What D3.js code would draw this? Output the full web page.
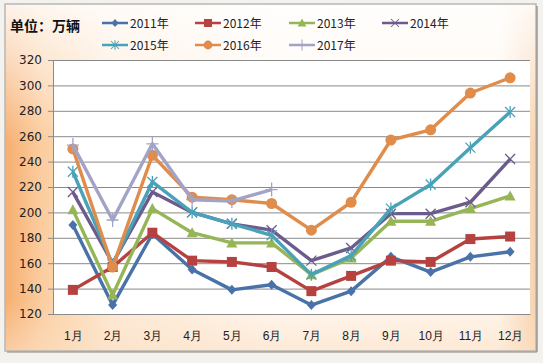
<!DOCTYPE html>
<html>
<head>
<meta charset="utf-8">
<script src="https://cdn.jsdelivr.net/npm/d3@7"></script>
<style>
  body { margin: 0; background: #f4f2ef; }
  svg { display: block; font-family: "Noto Sans CJK SC", "DejaVu Sans", sans-serif; }
</style>
</head>
<body>
<svg id="chart" width="543" height="363"></svg>
<script>
// chart data
var months = ['1月', '2月', '3月', '4月', '5月', '6月', '7月', '8月', '9月', '10月', '11月', '12月'];
var seriesNames = ['2011年', '2012年', '2013年', '2014年', '2015年', '2016年', '2017年'];
var v2011 = [190, 127, 183, 155, 139, 143, 127, 138, 165, 153, 165, 169];
var v2012 = [139, 157, 184, 162, 161, 157, 138, 150, 162, 161, 179, 181];
var v2013 = [202, 135, 203, 184, 176, 176, 151, 164, 193, 193, 203, 213];
var v2014 = [216, 160, 216, 200, 191, 186, 162, 172, 199, 199, 208, 242];
var v2015 = [232, 159, 224, 200, 191, 182, 151, 166, 203, 222, 251, 279];
var v2016 = [250, 157, 245, 212, 210, 207, 186, 208, 257, 265, 294, 306];
var v2017 = [253, 194, 254, 210, 209, 218];
var yTicks = [120, 140, 160, 180, 200, 220, 240, 260, 280, 300, 320];
var unitLabel = '单位：万辆';

var colors = ['#4a72a8', '#b5433f', '#95b556', '#6c5b8c', '#4aa2b8', '#e08c4c', '#a1a4c6'];
var markers = ['diamond', 'square', 'triangle', 'x', 'star', 'circle', 'plus'];
var allValues = [v2011, v2012, v2013, v2014, v2015, v2016, v2017];

var svg = d3.select('#chart');
var defs = svg.append('defs');

// background: orange along the left edge, cream inside, lighter on top
var hGrad = defs.append('linearGradient').attr('id', 'bgH')
    .attr('x1', 0).attr('x2', 1).attr('y1', 0).attr('y2', 0);
[[0, '#f6ae70'], [0.07, '#fbcd9f'], [0.2, '#fde9d5'], [0.5, '#fff8f1'], [0.93, '#fff7ef'], [1, '#f7d2ac']]
    .forEach(function(s) { hGrad.append('stop').attr('offset', s[0]).attr('stop-color', s[1]); });
var vGrad = defs.append('linearGradient').attr('id', 'bgV')
    .attr('x1', 0).attr('x2', 0).attr('y1', 0).attr('y2', 1);
[[0, '#ffffff', 0.85], [0.15, '#ffffff', 0.55], [0.4, '#ffffff', 0], [0.85, '#fbe0c4', 0], [1, '#fbe0c4', 0.6]]
    .forEach(function(s) {
        vGrad.append('stop').attr('offset', s[0]).attr('stop-color', s[1]).attr('stop-opacity', s[2]);
    });

var blur = defs.append('filter').attr('id', 'glow')
    .attr('x', '-5%').attr('y', '-5%').attr('width', '110%').attr('height', '110%');
blur.append('feGaussianBlur').attr('stdDeviation', 0.6);

svg.append('rect')
    .attr('x', 5).attr('y', 4).attr('width', 531).attr('height', 347)
    .attr('fill', 'url(#bgH)');
svg.append('rect')
    .attr('x', 5).attr('y', 4).attr('width', 531).attr('height', 347)
    .attr('fill', 'url(#bgV)')
    .attr('stroke', '#b9b6b2').attr('stroke-width', 1.5);
svg.append('line')
    .attr('x1', 537).attr('x2', 537).attr('y1', 6).attr('y2', 352)
    .attr('stroke', '#8d8781').attr('stroke-width', 2).attr('opacity', 0.6);
svg.append('line')
    .attr('x1', 7).attr('x2', 537).attr('y1', 352).attr('y2', 352)
    .attr('stroke', '#9b958f').attr('stroke-width', 2).attr('opacity', 0.6);

var margin = {top: 60, left: 53, right: 13, bottom: 49};
var width = 543 - margin.left - margin.right;
var height = 363 - margin.top - margin.bottom;

var x = d3.scalePoint().domain(months).range([0, width]).padding(0.5);
var y = d3.scaleLinear().domain([120, 320]).range([height, 0]);

var g = svg.append('g').attr('transform', 'translate(' + margin.left + ',' + margin.top + ')');

g.append('rect').attr('width', width).attr('height', height).attr('fill', '#ffffff');

// horizontal grid
g.append('g')
    .call(d3.axisLeft(y).tickValues(yTicks).tickSize(-width).tickFormat(''))
    .call(function(s) {
        s.select('.domain').remove();
        s.selectAll('line').attr('stroke', '#8a8a8a').attr('stroke-width', 1);
    });

// y axis
g.append('g')
    .call(d3.axisLeft(y).tickValues(yTicks).tickSize(5).tickPadding(6))
    .call(function(s) {
        s.select('.domain').attr('stroke', '#8a8a8a');
        s.selectAll('line').attr('stroke', '#8a8a8a');
        s.selectAll('text').attr('font-size', 12).attr('fill', '#222')
            .attr('font-family', '"DejaVu Sans", sans-serif');
    });

// x axis
g.append('g')
    .attr('transform', 'translate(0,' + height + ')')
    .call(d3.axisBottom(x).tickSize(0).tickPadding(17))
    .call(function(s) {
        s.select('.domain').attr('stroke', '#8a8a8a');
        s.selectAll('text').attr('font-size', 12).attr('fill', '#222');
    });

function drawMarker(sel, type, color) {
    if (type === 'diamond') {
        sel.append('path').attr('d', 'M0,-5L4.5,0L0,5L-4.5,0Z').attr('fill', color);
    } else if (type === 'square') {
        sel.append('rect').attr('x', -5).attr('y', -5).attr('width', 10).attr('height', 10).attr('fill', color);
    } else if (type === 'triangle') {
        sel.append('path').attr('d', 'M0,-5.5L5.5,4.5L-5.5,4.5Z').attr('fill', color);
    } else if (type === 'x') {
        sel.append('path').attr('d', 'M-5,-5L5,5M-5,5L5,-5').attr('stroke', color).attr('stroke-width', 1.3);
    } else if (type === 'star') {
        sel.append('path').attr('d', 'M-5,-5L5,5M-5,5L5,-5M0,-6L0,6').attr('stroke', color).attr('stroke-width', 1.3);
    } else if (type === 'circle') {
        sel.append('circle').attr('r', 5.5).attr('fill', color);
    } else if (type === 'plus') {
        sel.append('path').attr('d', 'M-6,0L6,0M0,-7L0,7').attr('stroke', color).attr('stroke-width', 1.3);
    }
}

var line = d3.line()
    .x(function(d, i) { return x(months[i]); })
    .y(function(d) { return y(d); });

var plot = g.append('g').attr('filter', 'url(#glow)');
allValues.forEach(function(vals, si) {
    var s = plot.append('g');
    s.append('path').datum(vals)
        .attr('d', line)
        .attr('fill', 'none')
        .attr('stroke', colors[si])
        .attr('stroke-width', 3.4)
        .attr('stroke-linejoin', 'round');
    s.selectAll('.pt').data(vals).enter().append('g')
        .attr('transform', function(d, i) { return 'translate(' + x(months[i]) + ',' + y(d) + ')'; })
        .each(function() { drawMarker(d3.select(this), markers[si], colors[si]); });
});

// unit label
svg.append('text').attr('x', 10).attr('y', 31)
    .attr('font-size', 14).attr('font-weight', 'bold').attr('fill', '#111')
    .text(unitLabel);

// legend
var legendPos = [[102, 23], [195, 23], [289, 23], [382, 23], [102, 45], [195, 45], [289, 45]];
seriesNames.forEach(function(name, i) {
    var lg = svg.append('g').attr('transform', 'translate(' + legendPos[i][0] + ',' + legendPos[i][1] + ')');
    lg.append('line').attr('x1', 0).attr('x2', 26).attr('y1', 0).attr('y2', 0)
        .attr('stroke', colors[i]).attr('stroke-width', 2.5);
    var m = lg.append('g').attr('transform', 'translate(13,0) scale(0.8)');
    drawMarker(m, markers[i], colors[i]);
    lg.append('text').attr('x', 28).attr('y', 4.5)
        .attr('font-size', 12).attr('fill', '#222').text(name);
});
</script>
</body>
</html>
